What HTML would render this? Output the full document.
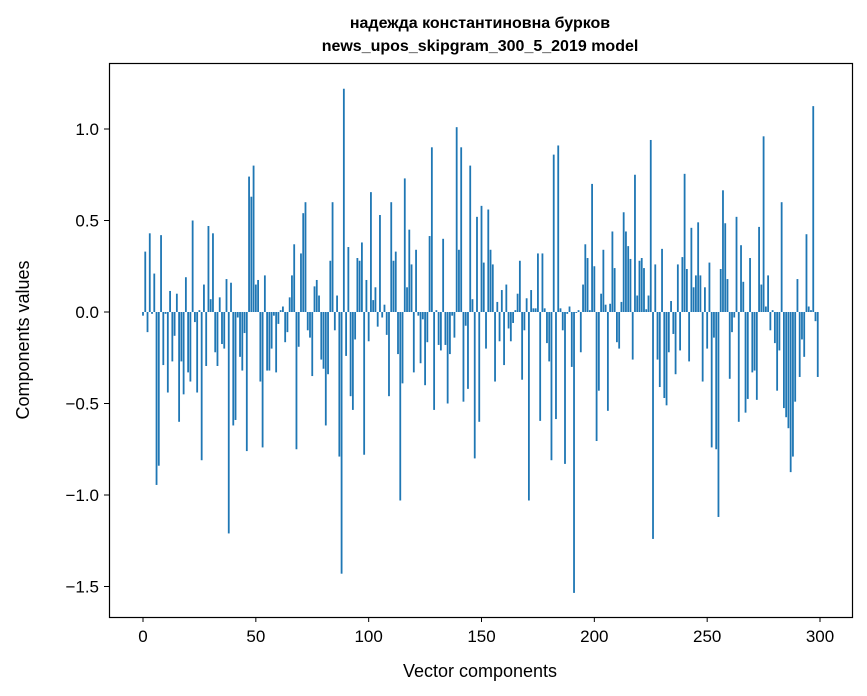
<!DOCTYPE html>
<html><head><meta charset="utf-8"><style>
html,body{margin:0;padding:0;background:#fff;}
svg{display:block;font-family:"Liberation Sans","DejaVu Sans",sans-serif;}
</style></head><body>
<svg id="chart" width="867" height="696" viewBox="0 0 867 696" xmlns="http://www.w3.org/2000/svg">
<rect width="867" height="696" fill="#fff"/>
<text x="480" y="28" text-anchor="middle" font-size="16" font-weight="bold">надежда константиновна бурков</text>
<text x="480" y="51" text-anchor="middle" font-size="16" font-weight="bold">news_upos_skipgram_300_5_2019 model</text>
<g id="bars"></g>
<g id="xticks"></g>
<g id="yticks"></g>
<rect x="109.5" y="63.5" width="743" height="554" fill="none" stroke="#000" stroke-width="1.2"/>
<text x="480" y="677" text-anchor="middle" font-size="18">Vector components</text>
<text transform="translate(29,340) rotate(-90)" text-anchor="middle" font-size="18">Components values</text>
</svg>
<script>
const values = [
-0.02,0.33,-0.11,0.43,-0.01,0.21,-0.945,-0.84,0.42,-0.29,
-0.01,-0.44,0.115,-0.27,-0.13,0.10,-0.60,-0.27,-0.45,0.19,
-0.33,-0.38,0.50,-0.055,-0.44,0.01,-0.81,0.15,-0.295,0.47,
0.07,0.43,-0.22,-0.295,0.08,-0.175,-0.20,0.18,-1.21,0.16,
-0.62,-0.59,-0.03,-0.245,-0.32,-0.115,-0.76,0.74,0.63,0.80,
0.15,0.175,-0.38,-0.74,0.20,-0.32,-0.32,-0.20,-0.02,-0.33,
-0.065,0.01,0.03,-0.165,-0.11,0.08,0.20,0.37,-0.75,-0.19,
0.32,0.54,0.60,-0.10,-0.14,-0.35,0.14,0.175,0.09,-0.26,
-0.31,-0.62,-0.34,0.28,0.60,-0.10,0.09,-0.79,-1.43,1.22,
-0.24,0.355,-0.46,-0.535,-0.15,0.295,0.28,0.38,-0.78,0.175,
-0.16,0.655,0.065,0.135,-0.08,0.53,-0.03,0.04,-0.125,-0.46,
0.60,0.28,0.33,-0.23,-1.03,-0.39,0.73,0.135,0.45,0.26,
-0.33,0.34,-0.02,-0.28,-0.04,-0.40,-0.165,0.415,0.90,-0.535,
0.01,-0.18,-0.21,0.40,-0.18,-0.50,-0.23,-0.02,-0.14,1.01,
0.34,0.90,-0.49,-0.075,-0.42,0.80,0.07,-0.80,0.52,-0.60,
0.58,0.27,-0.20,0.56,0.34,0.26,-0.38,0.055,-0.16,0.12,
-0.29,0.15,-0.09,-0.16,-0.06,0.01,0.10,0.28,-0.37,-0.10,
0.075,-1.03,0.12,0.02,0.02,0.32,-0.595,0.32,0.02,-0.17,
-0.27,-0.81,0.86,-0.585,0.91,0.02,-0.10,-0.83,-0.01,0.03,
-0.30,-1.535,-0.005,0.01,-0.22,0.15,0.37,0.295,0.01,0.70,
0.25,-0.705,-0.43,0.10,0.34,0.04,-0.54,0.045,0.44,0.24,
-0.165,-0.20,0.055,0.545,0.44,0.36,0.29,-0.26,0.75,0.09,
0.28,0.295,0.24,0.015,0.09,0.94,-1.24,0.26,-0.26,-0.41,
0.345,-0.47,-0.51,-0.22,0.06,-0.12,-0.34,0.26,-0.21,0.30,
0.755,0.235,-0.27,0.46,0.135,0.20,0.49,0.20,-0.38,0.135,
-0.20,0.27,-0.74,-0.14,-0.75,-1.12,0.235,0.665,0.485,0.18,
-0.365,-0.11,-0.03,0.52,-0.60,0.365,0.165,-0.55,-0.475,0.295,
-0.33,-0.32,-0.48,0.465,0.15,0.96,0.03,0.20,-0.10,0.01,
-0.17,-0.43,-0.21,0.60,-0.525,-0.575,-0.635,-0.875,-0.79,-0.49,
0.18,-0.355,-0.15,-0.245,0.425,0.03,0.01,1.125,-0.05,-0.355
];
const xTicks = [0,50,100,150,200,250,300];
const yTicks = [-1.5,-1.0,-0.5,0.0,0.5,1.0];
const yTickLabels = ["\u22121.5","\u22121.0","\u22120.5","0.0","0.5","1.0"];

const NS = "http://www.w3.org/2000/svg";
const x = v => 143 + v * 2.2567;
const y = v => 312 - v * 183;
const bars = document.getElementById('bars');
values.forEach((v, i) => {
  const r = document.createElementNS(NS, 'rect');
  r.setAttribute('x', x(i - 0.4));
  r.setAttribute('width', 0.8 * 2.2567);
  r.setAttribute('y', Math.min(y(v), y(0)));
  r.setAttribute('height', Math.abs(y(v) - y(0)));
  r.setAttribute('fill', '#1f77b4');
  
  
  bars.appendChild(r);
});
const xg = document.getElementById('xticks');
xTicks.forEach(t => {
  const l = document.createElementNS(NS, 'line');
  l.setAttribute('x1', x(t)); l.setAttribute('x2', x(t));
  l.setAttribute('y1', 617); l.setAttribute('y2', 622);
  l.setAttribute('stroke', '#000');
  
  
  xg.appendChild(l);
  const tx = document.createElementNS(NS, 'text');
  tx.setAttribute('x', x(t)); tx.setAttribute('y', 642);
  tx.setAttribute('text-anchor', 'middle'); tx.setAttribute('font-size', '17');
  tx.textContent = t;
  
  
  xg.appendChild(tx);
});
const yg = document.getElementById('yticks');
yTicks.forEach((t, i) => {
  const l = document.createElementNS(NS, 'line');
  l.setAttribute('x1', 104); l.setAttribute('x2', 109);
  l.setAttribute('y1', y(t)); l.setAttribute('y2', y(t));
  l.setAttribute('stroke', '#000');
  
  
  yg.appendChild(l);
  const tx = document.createElementNS(NS, 'text');
  tx.setAttribute('x', 99); tx.setAttribute('y', y(t) + 6);
  tx.setAttribute('text-anchor', 'end'); tx.setAttribute('font-size', '17');
  tx.textContent = yTickLabels[i];
  
  
  yg.appendChild(tx);
});
</script>
</body></html>
